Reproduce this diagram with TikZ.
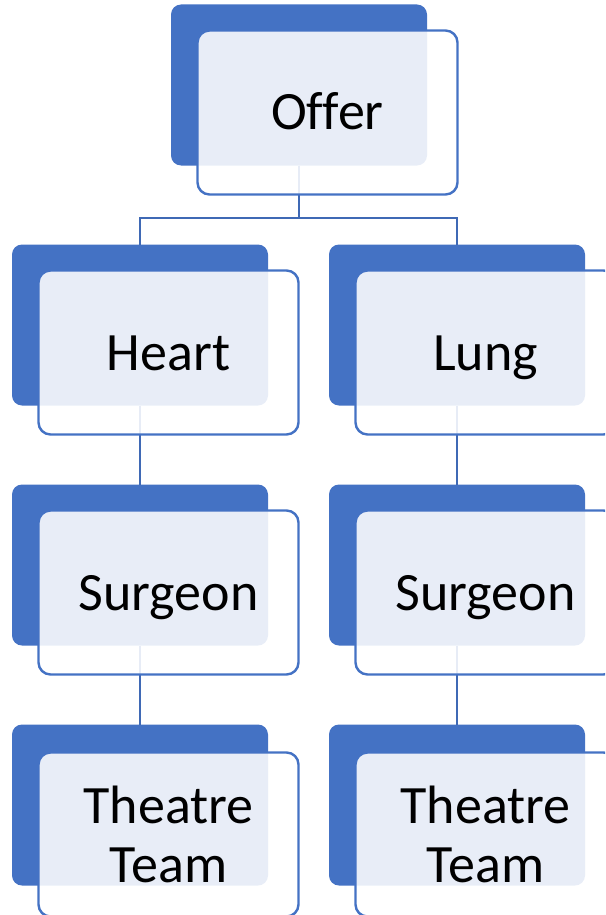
\documentclass[tikz,border=0pt]{standalone}
\usepackage{fontspec}
\setmainfont{Carlito}[Ligatures=NoCommon]
\definecolor{accent}{HTML}{4472C4}
\definecolor{linkblue}{HTML}{3F69B5}
\begin{document}
\begin{tikzpicture}[x=1pt,y=-1pt,
        back/.style={shape=rectangle,rounded corners=10pt,fill=accent,draw=none,
                minimum width=256pt,minimum height=161pt,inner sep=0pt,outer sep=0pt},
        card/.style={shape=rectangle,rounded corners=12pt,fill=white,fill opacity=0.88,
                text opacity=1,draw=accent,draw opacity=1,line width=2.4pt,
                minimum width=260pt,minimum height=164pt,inner sep=0pt,outer sep=0pt,
                font=\fontsize{54}{59}\selectfont,text height=35pt,text depth=0pt},
        conn/.style={draw=linkblue,line width=2.4pt}]
        \useasboundingbox (0,0) rectangle (605,915);
        \clip (0,0) rectangle (605,915);

        \node[back] (offer-b) at (299,85) {};
        \node[back] (heart-b) at (140,325) {};
        \node[back] (lung-b) at (457,325) {};
        \node[back] (surgeon-l-b) at (140,565) {};
        \node[back] (surgeon-r-b) at (457,565) {};
        \node[back] (theatre-l-b) at (140,805) {};
        \node[back] (theatre-r-b) at (457,805) {};
        \coordinate (fork) at (299,218);

        \path[conn]
        (offer-b) edge (fork)
        (heart-b) edge (surgeon-l-b)
        (lung-b) edge (surgeon-r-b)
        (surgeon-l-b) edge (theatre-l-b)
        (surgeon-r-b) edge (theatre-r-b)
        ;
        \draw[conn] (fork) -| (heart-b);
        \draw[conn] (fork) -| (lung-b);

        \node[card] (offer) at (327.5,112.5) {Offer};
        \node[card] (heart) at (168.5,352.5) {Heart};
        \node[card] (lung) at (485.5,352.5) {Lung};
        \node[card] (surgeon-l) at (168.5,592.5) {Surgeon};
        \node[card] (surgeon-r) at (485.5,592.5) {Surgeon};
        \node[card,align=center,text height=,text depth=,yshift=-2pt] (theatre-l) at (168.5,832.5) {Theatre\\Team};
        \node[card,align=center,text height=,text depth=,yshift=-2pt] (theatre-r) at (485.5,832.5) {Theatre\\Team};
\end{tikzpicture}
\end{document}
